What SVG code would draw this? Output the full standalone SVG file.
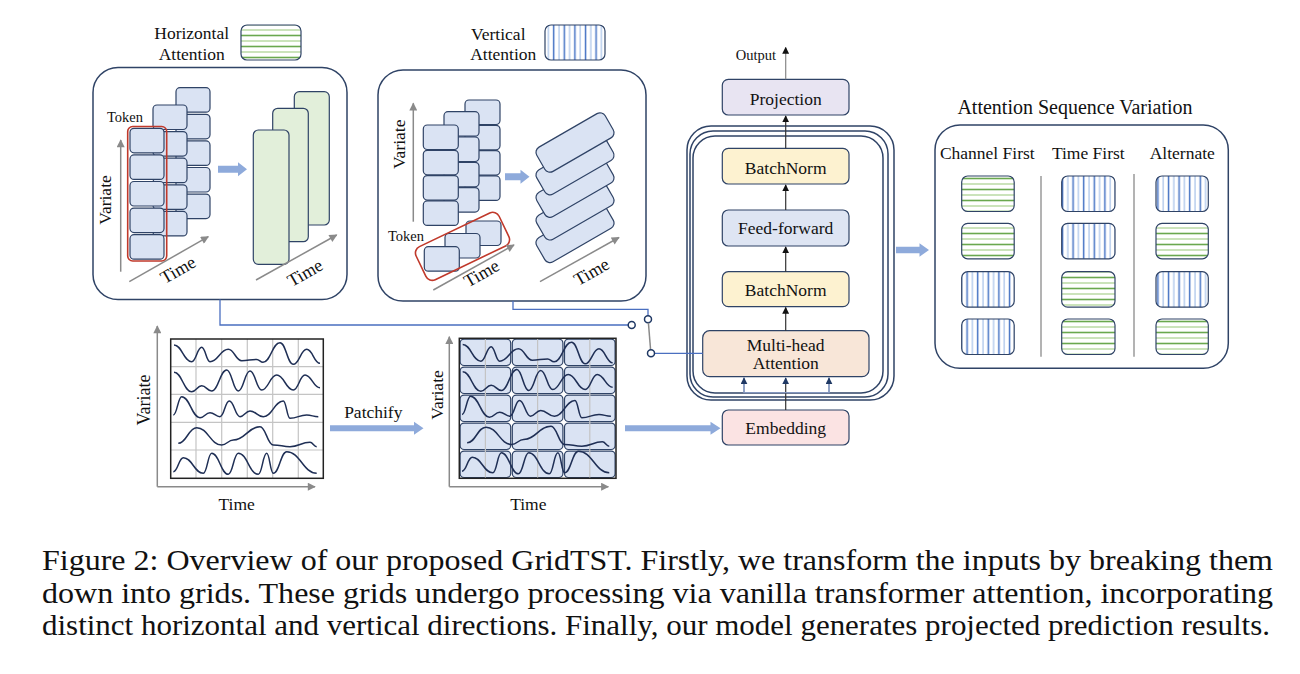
<svg xmlns="http://www.w3.org/2000/svg" width="1300" height="674" viewBox="0 0 1300 674">
<style>
.t{font-family:"Liberation Serif","Times New Roman",serif;fill:#111;}
.panel{fill:#fff;stroke:#2f4366;stroke-width:1.5;}
.blk{fill:#dae3f3;stroke:#2f4366;stroke-width:1.2;}
.gp{fill:#e2efda;stroke:#2f4366;stroke-width:1.2;}
.mb{stroke:#2f4366;stroke-width:1.2;}
.ax{stroke:#8a8a8a;stroke-width:1.5;fill:none;marker-end:url(#ga);}
.bar{fill:#8eaadb;}
.wave{fill:none;stroke:#1f2f55;stroke-width:1.5;}
.grid{stroke:#c4c4c4;stroke-width:1.2;}
.link{fill:none;stroke:#4a6fc0;stroke-width:1.3;}
.sw{fill:#fff;stroke:#1f3864;stroke-width:1.5;}
.tb{stroke:#2f4366;stroke-width:1.2;}
.arr{stroke:#333;stroke-width:1.2;marker-end:url(#ah);}
.br{stroke:#8395bd;stroke-width:1.3;fill:none;}
.cap{font-family:"Liberation Serif","Times New Roman",serif;fill:#111;font-size:28.5px;}
</style>
<defs>
<pattern id="hp" patternUnits="userSpaceOnUse" width="10" height="11">
<rect width="10" height="11" fill="#fff"/>
<line x1="0" y1="2.5" x2="10" y2="2.5" stroke="#6aa84f" stroke-width="1.6"/>
<line x1="0" y1="8" x2="10" y2="8" stroke="#a9d18e" stroke-width="1.2"/>
</pattern>
<pattern id="vp" patternUnits="userSpaceOnUse" width="10.6" height="10">
<rect width="10.6" height="10" fill="#fff"/>
<line x1="2.5" y1="0" x2="2.5" y2="10" stroke="#4472c4" stroke-width="1.5"/>
<line x1="7.8" y1="0" x2="7.8" y2="10" stroke="#9dbbe6" stroke-width="1.1"/>
</pattern>
<marker id="ga" viewBox="0 0 10 10" markerWidth="9" markerHeight="8" refX="9" refY="5" markerUnits="userSpaceOnUse" orient="auto"><path d="M0,0 L10,5 L0,10 z" fill="#8a8a8a"/></marker>
<marker id="ah" viewBox="0 0 10 10" markerWidth="7" markerHeight="7" refX="9" refY="5" markerUnits="userSpaceOnUse" orient="auto"><path d="M0,0 L10,5 L0,10 z" fill="#111"/></marker>
<marker id="an" viewBox="0 0 10 10" markerWidth="7" markerHeight="7" refX="9" refY="5" markerUnits="userSpaceOnUse" orient="auto"><path d="M0,0 L10,5 L0,10 z" fill="#1f3864"/></marker>
<g id="waves">
<path class="wave" d="M174 345 C182 345 183.7 361.7 191.7 361.7 C196.2 361.7 197.2 347.3 201.7 347.3 C205.4 347.3 206.3 361.7 210 361.7 C218.2 361.7 220.1 349.3 228.3 349.3 C234.3 349.3 235.7 360.7 241.7 360.7 C248.4 360.7 250 359.5 256.7 359.5 C259.5 359.5 260.2 362.3 263 362.3 C270.6 362.3 272.4 342.7 280 342.7 C286 342.7 287.3 364.3 293.3 364.3 C299.3 364.3 300.7 349.3 306.7 349.3 C312.7 349.3 314 363.3 320 363.3"/>
<path class="wave" d="M174 372.3 C182 372.3 183.7 391.7 191.7 391.7 C196.2 391.7 197.2 385.7 201.7 385.7 C206.2 385.7 207.2 391 211.7 391 C218.4 391 220 370 226.7 370 C231.9 370 233.1 391 238.3 391 C243.6 391 244.7 371 250 371 C255.3 371 256.4 390 261.7 390 C268.4 390 270 375 276.7 375 C284.2 375 285.8 390 293.3 390 C298.6 390 299.7 375 305 375 C311.7 375 313.3 387.7 320 387.7"/>
<path class="wave" d="M173.3 415 C177.1 415 177.9 396.7 181.7 396.7 C189.9 396.7 191.8 417.7 200 417.7 C204.5 417.7 205.5 412.7 210 412.7 C214.5 412.7 215.5 416.7 220 416.7 C224.2 416.7 225.1 401 229.3 401 C234.1 401 235.2 416.7 240 416.7 C244.5 416.7 245.5 411 250 411 C256 411 257.3 416.7 263.3 416.7 C272.3 416.7 274.3 401 283.3 401 C286.3 401 287 418.3 290 418.3 C297.5 418.3 299.2 415 306.7 415 C311.9 415 313.1 416.7 318.3 416.7"/>
<path class="wave" d="M178.3 443.3 C186.6 443.3 188.4 427.7 196.7 427.7 C207.9 427.7 210.5 445 221.7 445 C226.9 445 228.1 440 233.3 440 C245.3 440 248 426.7 260 426.7 C266 426.7 267.3 445 273.3 445 C280.8 445 282.5 446.7 290 446.7 C299 446.7 301 442.3 310 442.3 C313 442.3 313.7 446.7 316.7 446.7"/>
<path class="wave" d="M173.3 471.7 C177.8 471.7 178.8 457.7 183.3 457.7 C192.3 457.7 194.3 473.3 203.3 473.3 C207.1 473.3 207.9 453.3 211.7 453.3 C219.2 453.3 220.8 474.3 228.3 474.3 C232.8 474.3 233.8 453.3 238.3 453.3 C247.3 453.3 249.3 474.3 258.3 474.3 C262.1 474.3 262.9 453.3 266.7 453.3 C269.7 453.3 270.3 473.3 273.3 473.3 C279.3 473.3 280.7 451.7 286.7 451.7 C300.2 451.7 303.2 473.3 316.7 473.3"/>
</g>
</defs>

<rect width="1300" height="674" fill="#fff"/>

<!-- Horizontal attention panel -->
<g id="horizontal-attention">
<text class="t" x="191.7" y="39" font-size="17.5" text-anchor="middle">Horizontal</text>
<text class="t" x="191.7" y="60" font-size="17.5" text-anchor="middle">Attention</text>
<rect x="241" y="25" width="60" height="35" rx="6" fill="url(#hp)" class="mb"/>
<rect class="panel" x="93" y="67.5" width="254" height="232" rx="25"/>
<g>
<rect class="blk" x="176" y="87.7" width="34" height="24.5" rx="4"/>
<rect class="blk" x="176" y="114.3" width="34" height="24.5" rx="4"/>
<rect class="blk" x="176" y="140.9" width="34" height="24.5" rx="4"/>
<rect class="blk" x="176" y="167.5" width="34" height="24.5" rx="4"/>
<rect class="blk" x="176" y="194.1" width="34" height="24.5" rx="4"/>
<rect class="blk" x="153" y="105" width="34" height="24.5" rx="4"/>
<rect class="blk" x="153" y="131.6" width="34" height="24.5" rx="4"/>
<rect class="blk" x="153" y="158.2" width="34" height="24.5" rx="4"/>
<rect class="blk" x="153" y="184.8" width="34" height="24.5" rx="4"/>
<rect class="blk" x="153" y="211.4" width="34" height="24.5" rx="4"/>
<rect class="blk" x="130" y="128.3" width="34" height="24.5" rx="4"/>
<rect class="blk" x="130" y="154.9" width="34" height="24.5" rx="4"/>
<rect class="blk" x="130" y="181.5" width="34" height="24.5" rx="4"/>
<rect class="blk" x="130" y="208.1" width="34" height="24.5" rx="4"/>
<rect class="blk" x="130" y="234.7" width="34" height="24.5" rx="4"/>
</g>
<rect x="127.7" y="126.5" width="39" height="134.5" rx="5" fill="none" stroke="#c0392b" stroke-width="1.6"/>
<text class="t" x="125" y="121.5" font-size="14.5" text-anchor="middle">Token</text>
<line class="ax" x1="120.7" y1="271.7" x2="120.7" y2="140"/>
<text class="t" font-size="17.5" text-anchor="middle" transform="translate(111,200) rotate(-90)">Variate</text>
<line class="ax" x1="129.3" y1="281.7" x2="208.3" y2="236.7"/>
<text class="t" font-size="18" text-anchor="middle" transform="translate(181,275) rotate(-30)">Time</text>
<path class="bar" d="M218,165.8 L238,165.8 L238,162.3 L247,169.3 L238,176.3 L238,172.8 L218,172.8 Z"/>
<rect class="gp" x="294.3" y="91.7" width="35" height="133.3" rx="5"/>
<rect class="gp" x="272.7" y="108.3" width="35.6" height="133.4" rx="5"/>
<rect class="gp" x="253.3" y="130" width="35.7" height="134.3" rx="5"/>
<line class="ax" x1="256" y1="280" x2="336.7" y2="235"/>
<text class="t" font-size="18" text-anchor="middle" transform="translate(308,278) rotate(-30)">Time</text>
</g>

<!-- Vertical attention panel -->
<g id="vertical-attention">
<text class="t" x="498.3" y="40.3" font-size="17.5" text-anchor="middle">Vertical</text>
<text class="t" x="503.3" y="60.3" font-size="17.5" text-anchor="middle">Attention</text>
<rect x="545" y="25" width="60" height="35" rx="6" fill="url(#vp)" class="mb"/>
<rect class="panel" x="378" y="70" width="268" height="231" rx="25"/>
<g>
<rect class="blk" x="465" y="100" width="35" height="24.5" rx="4"/>
<rect class="blk" x="465" y="125.3" width="35" height="24.5" rx="4"/>
<rect class="blk" x="465" y="150.6" width="35" height="24.5" rx="4"/>
<rect class="blk" x="465" y="175.9" width="35" height="24.5" rx="4"/>
<rect class="blk" x="444" y="111.7" width="35" height="24.5" rx="4"/>
<rect class="blk" x="444" y="137" width="35" height="24.5" rx="4"/>
<rect class="blk" x="444" y="162.3" width="35" height="24.5" rx="4"/>
<rect class="blk" x="444" y="187.6" width="35" height="24.5" rx="4"/>
<rect class="blk" x="423.3" y="125" width="35" height="24.5" rx="4"/>
<rect class="blk" x="423.3" y="150.3" width="35" height="24.5" rx="4"/>
<rect class="blk" x="423.3" y="175.6" width="35" height="24.5" rx="4"/>
<rect class="blk" x="423.3" y="200.9" width="35" height="24.5" rx="4"/>
<rect class="blk" x="466" y="221" width="35" height="24.5" rx="4"/>
<rect class="blk" x="445" y="233.5" width="35" height="24.5" rx="4"/>
<rect class="blk" x="424.3" y="246.7" width="35" height="24.5" rx="4"/>
</g>
<rect x="-46" y="-18.3" width="92" height="36.6" rx="7" fill="none" stroke="#c0392b" stroke-width="1.6" transform="translate(462.5,246.3) rotate(-25.6)"/>
<text class="t" x="406" y="241" font-size="14.5" text-anchor="middle">Token</text>
<line class="ax" x1="413.3" y1="221.7" x2="413.3" y2="103.3"/>
<text class="t" font-size="17.5" text-anchor="middle" transform="translate(405,144.3) rotate(-90)">Variate</text>
<line class="ax" x1="433.3" y1="290" x2="514" y2="245"/>
<text class="t" font-size="18" text-anchor="middle" transform="translate(484.5,278.5) rotate(-30)">Time</text>
<path class="bar" d="M505,173.2 L520.5,173.2 L520.5,169.7 L529.5,176.7 L520.5,183.7 L520.5,180.2 L505,180.2 Z"/>
<g>
<rect class="blk" x="-39.5" y="-14" width="79" height="28" rx="6" transform="translate(575,232.9) rotate(-30)"/>
<rect class="blk" x="-39.5" y="-14" width="79" height="28" rx="6" transform="translate(575,210.3) rotate(-30)"/>
<rect class="blk" x="-39.5" y="-14" width="79" height="28" rx="6" transform="translate(575,187.7) rotate(-30)"/>
<rect class="blk" x="-39.5" y="-14" width="79" height="28" rx="6" transform="translate(575,165.1) rotate(-30)"/>
<rect class="blk" x="-39.5" y="-14" width="79" height="28" rx="6" transform="translate(575,142.5) rotate(-30)"/>
</g>
<line class="ax" x1="540" y1="281.7" x2="619" y2="237.5"/>
<text class="t" font-size="18" text-anchor="middle" transform="translate(594.5,277) rotate(-30)">Time</text>
</g>

<!-- Raw time series -->
<g id="time-series">
<line class="ax" x1="157.3" y1="486.7" x2="157.3" y2="326"/>
<line class="ax" x1="157.3" y1="486.7" x2="315" y2="486.7"/>
<rect x="170.7" y="339" width="152.6" height="139.3" fill="#fff"/>
<g class="grid">
<line x1="196" y1="339" x2="196" y2="478.3"/>
<line x1="221.7" y1="339" x2="221.7" y2="478.3"/>
<line x1="247.3" y1="339" x2="247.3" y2="478.3"/>
<line x1="272.7" y1="339" x2="272.7" y2="478.3"/>
<line x1="298.3" y1="339" x2="298.3" y2="478.3"/>
<line x1="170.7" y1="366.7" x2="323.3" y2="366.7"/>
<line x1="170.7" y1="394.3" x2="323.3" y2="394.3"/>
<line x1="170.7" y1="422.3" x2="323.3" y2="422.3"/>
<line x1="170.7" y1="450" x2="323.3" y2="450"/>
</g>
<rect x="170.7" y="339" width="152.6" height="139.3" fill="none" stroke="#222" stroke-width="1.5"/>
<use href="#waves"/>
<text class="t" font-size="18" text-anchor="middle" transform="translate(149.5,400) rotate(-90)">Variate</text>
<text class="t" x="236.7" y="509.5" font-size="17.5" text-anchor="middle">Time</text>
</g>

<g id="patchify">
<text class="t" x="373.3" y="417.5" font-size="17.5" text-anchor="middle">Patchify</text>
<path class="bar" d="M330,425.3 L414,425.3 L414,421.8 L423.5,428.3 L414,434.8 L414,431.3 L330,431.3 Z"/>
</g>

<!-- Patched grid -->
<g id="patched-grid">
<line class="ax" x1="449.3" y1="486.7" x2="449.3" y2="336.7"/>
<line class="ax" x1="449.3" y1="486.7" x2="608.3" y2="486.7"/>
<rect x="459.3" y="338.3" width="156.7" height="140" fill="#fff"/>
<g class="blk">
<rect x="460.1" y="339.1" width="50.6" height="26.4" rx="4"/>
<rect x="512.3" y="339.1" width="50.6" height="26.4" rx="4"/>
<rect x="564.5" y="339.1" width="50.6" height="26.4" rx="4"/>
<rect x="460.1" y="367.1" width="50.6" height="26.4" rx="4"/>
<rect x="512.3" y="367.1" width="50.6" height="26.4" rx="4"/>
<rect x="564.5" y="367.1" width="50.6" height="26.4" rx="4"/>
<rect x="460.1" y="395.1" width="50.6" height="26.4" rx="4"/>
<rect x="512.3" y="395.1" width="50.6" height="26.4" rx="4"/>
<rect x="564.5" y="395.1" width="50.6" height="26.4" rx="4"/>
<rect x="460.1" y="423.1" width="50.6" height="26.4" rx="4"/>
<rect x="512.3" y="423.1" width="50.6" height="26.4" rx="4"/>
<rect x="564.5" y="423.1" width="50.6" height="26.4" rx="4"/>
<rect x="460.1" y="451.1" width="50.6" height="26.4" rx="4"/>
<rect x="512.3" y="451.1" width="50.6" height="26.4" rx="4"/>
<rect x="564.5" y="451.1" width="50.6" height="26.4" rx="4"/>
</g>
<g class="grid">
<line x1="485.4" y1="338.3" x2="485.4" y2="478.3"/>
<line x1="537.6" y1="338.3" x2="537.6" y2="478.3"/>
<line x1="589.8" y1="338.3" x2="589.8" y2="478.3"/>
</g>
<rect x="459.3" y="338.3" width="156.7" height="140" fill="none" stroke="#222" stroke-width="1.5"/>
<use href="#waves" transform="translate(284,-0.5) scale(1.027,1)"/>
<text class="t" font-size="17.5" text-anchor="middle" transform="translate(442.5,395) rotate(-90)">Variate</text>
<text class="t" x="528.3" y="509.5" font-size="17.5" text-anchor="middle">Time</text>
</g>

<!-- Transformer stack -->
<g id="encoder-stack">
<rect class="panel" x="687" y="126" width="207" height="274" rx="24"/>
<rect class="panel" x="690" y="131" width="198" height="266" rx="23"/>
<rect class="panel" x="693" y="136" width="190" height="257" rx="22"/>
</g>
<g id="projection">
<rect class="tb" x="722.3" y="79.3" width="126.7" height="35.7" rx="6" fill="#e8e4f2"/>
<text class="t" x="785.7" y="104.7" font-size="17.5" text-anchor="middle">Projection</text>
</g>
<g id="batchnorm-top">
<rect class="tb" x="722.3" y="148.3" width="126.7" height="35.7" rx="6" fill="#fdf2d0"/>
<text class="t" x="785.7" y="173.7" font-size="17.5" text-anchor="middle">BatchNorm</text>
</g>
<g id="feed-forward">
<rect class="tb" x="722.3" y="210" width="126.7" height="36" rx="6" fill="#dee5f3"/>
<text class="t" x="785.7" y="234.3" font-size="17.5" text-anchor="middle">Feed-forward</text>
</g>
<g id="batchnorm-bottom">
<rect class="tb" x="722.3" y="271.7" width="126.7" height="35" rx="6" fill="#fdf2d0"/>
<text class="t" x="785.7" y="296" font-size="17.5" text-anchor="middle">BatchNorm</text>
</g>
<g id="multi-head-attention">
<rect class="tb" x="702.7" y="330.7" width="166.3" height="46" rx="7" fill="#f8e6d8"/>
<text class="t" x="785.7" y="351" font-size="17.5" text-anchor="middle">Multi-head</text>
<text class="t" x="785.7" y="369.3" font-size="17.5" text-anchor="middle">Attention</text>
</g>
<g id="embedding">
<rect class="tb" x="722.3" y="410" width="126.7" height="35" rx="6" fill="#fbe3e3"/>
<text class="t" x="785.7" y="434.3" font-size="17.5" text-anchor="middle">Embedding</text>
</g>
<g id="output">
<text class="t" x="756" y="60" font-size="14.5" text-anchor="middle">Output</text>
</g>

<!-- Attention Sequence Variation -->
<g id="attention-sequence-variation">
<text class="t" x="1075" y="113.7" font-size="20" text-anchor="middle">Attention Sequence Variation</text>
<rect class="panel" x="935" y="125" width="293.3" height="243.3" rx="25"/>
<text class="t" x="987.3" y="159.3" font-size="17.5" text-anchor="middle">Channel First</text>
<text class="t" x="1088.3" y="159.3" font-size="17.5" text-anchor="middle">Time First</text>
<text class="t" x="1182.3" y="159.3" font-size="17.5" text-anchor="middle">Alternate</text>
<line x1="1041" y1="176" x2="1041" y2="356.7" stroke="#9a9a9a" stroke-width="1.5"/>
<line x1="1134" y1="174" x2="1134" y2="356.7" stroke="#9a9a9a" stroke-width="1.5"/>
<rect class="mb" x="961.7" y="176" width="52.5" height="35.5" rx="6" fill="url(#hp)"/>
<rect class="mb" x="961.7" y="223.3" width="52.5" height="35.5" rx="6" fill="url(#hp)"/>
<rect class="mb" x="961.7" y="271.7" width="52.5" height="35.5" rx="6" fill="url(#vp)"/>
<rect class="mb" x="961.7" y="319" width="52.5" height="35.5" rx="6" fill="url(#vp)"/>
<rect class="mb" x="1061.7" y="176" width="53.3" height="35.5" rx="6" fill="url(#vp)"/>
<rect class="mb" x="1061.7" y="223.3" width="53.3" height="35.5" rx="6" fill="url(#vp)"/>
<rect class="mb" x="1061.7" y="271.7" width="53.3" height="35.5" rx="6" fill="url(#hp)"/>
<rect class="mb" x="1061.7" y="319" width="53.3" height="35.5" rx="6" fill="url(#hp)"/>
<rect class="mb" x="1156" y="176" width="52.3" height="35.5" rx="6" fill="url(#vp)"/>
<rect class="mb" x="1156" y="223.3" width="52.3" height="35.5" rx="6" fill="url(#hp)"/>
<rect class="mb" x="1156" y="271.7" width="52.3" height="35.5" rx="6" fill="url(#vp)"/>
<rect class="mb" x="1156" y="319" width="52.3" height="35.5" rx="6" fill="url(#hp)"/>
</g>

<!-- Connectors -->
<g id="connectors">
<polyline class="link" points="220,299.5 220,325 628.2,325"/>
<circle class="sw" cx="631.7" cy="325" r="3.5"/>
<polyline class="link" points="513,301 513,309.3 648,309.3 648,315.8"/>
<circle class="sw" cx="648" cy="319.3" r="3.5"/>
<line x1="648.4" y1="322.8" x2="650.6" y2="349.8" stroke="#8a8a8a" stroke-width="1.5"/>
<line class="link" x1="654.5" y1="353.3" x2="702.7" y2="353.3"/>
<circle class="sw" cx="651" cy="353.3" r="3.5"/>
<path class="bar" d="M625,425.3 L710.5,425.3 L710.5,421.8 L720.5,428.3 L710.5,434.8 L710.5,431.3 L625,431.3 Z"/>
<path class="bar" d="M896,246.8 L919.5,246.8 L919.5,243.3 L929,250 L919.5,256.7 L919.5,253.2 L896,253.2 Z"/>
<line x1="785.7" y1="410" x2="785.7" y2="378" stroke="#333" stroke-width="1.2" marker-end="url(#an)"/>
<polyline class="br" points="744,377.5 744,392.7 829,392.7 829,377.5"/>
<line x1="744" y1="392.7" x2="744" y2="378" stroke="#8395bd" stroke-width="1.3" marker-end="url(#an)"/>
<line x1="829" y1="392.7" x2="829" y2="378" stroke="#8395bd" stroke-width="1.3" marker-end="url(#an)"/>
<line class="arr" x1="785.7" y1="330.7" x2="785.7" y2="307.5"/>
<line class="arr" x1="785.7" y1="271.7" x2="785.7" y2="247"/>
<line class="arr" x1="785.7" y1="210" x2="785.7" y2="185"/>
<line class="arr" x1="785.7" y1="148.3" x2="785.7" y2="116"/>
<line x1="785.7" y1="79.3" x2="785.7" y2="47.5" stroke="#888" stroke-width="1.2" marker-end="url(#ah)"/>
</g>

<!-- Caption -->
<g id="caption">
<text class="cap" x="42" y="570" textLength="1231" lengthAdjust="spacingAndGlyphs">Figure 2: Overview of our proposed GridTST. Firstly, we transform the inputs by breaking them</text>
<text class="cap" x="42" y="602.5" textLength="1231" lengthAdjust="spacingAndGlyphs">down into grids. These grids undergo processing via vanilla transformer attention, incorporating</text>
<text class="cap" x="42" y="635" textLength="1228" lengthAdjust="spacingAndGlyphs">distinct horizontal and vertical directions. Finally, our model generates projected prediction results.</text>
</g>
</svg>
